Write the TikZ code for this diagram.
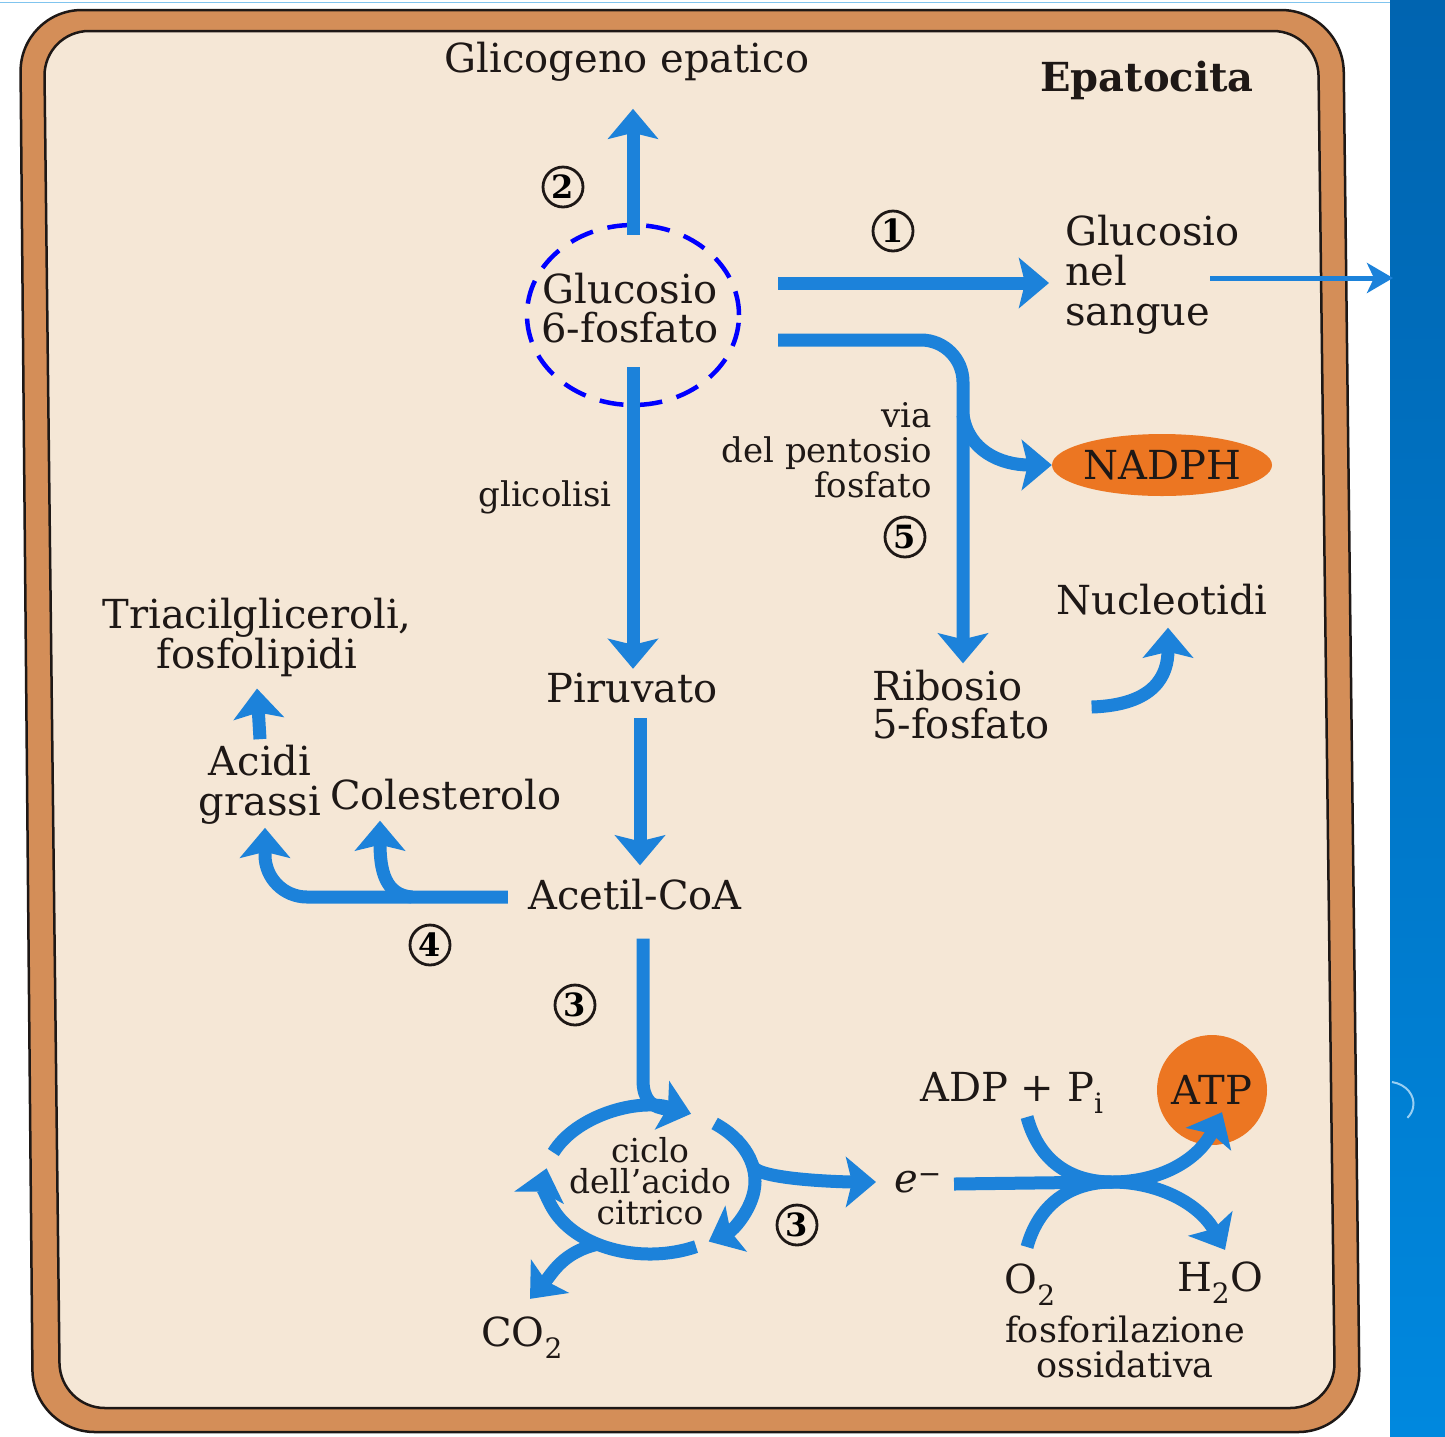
\documentclass[tikz,border=0pt]{standalone}
\usepackage{fontspec}
\setmainfont{DejaVu Serif}
\usetikzlibrary{arrows.meta, positioning, calc, shapes.geometric}
\definecolor{freccia}{RGB}{28,130,218}
\definecolor{cellula}{RGB}{245,231,214}
\definecolor{bordo}{RGB}{212,142,88}
\definecolor{arancio}{RGB}{236,118,34}
\definecolor{pannello}{RGB}{0,100,176}
\definecolor{pannellob}{RGB}{0,136,222}
\definecolor{inchiostro}{RGB}{30,24,22}

\begin{document}
\begin{tikzpicture}[x=1pt, y=-1pt,
    flusso/.style={freccia, line width=13pt, -{Stealth[length=30pt, width=50pt, inset=6pt]}},
    linea/.style={freccia, line width=13pt},
    sottile/.style={freccia, line width=5pt, -{Stealth[length=26pt, width=30pt, inset=7pt]}},
    testo/.style={inchiostro, font=\fontsize{40}{40}\selectfont, inner sep=0pt, align=center},
    piccolo/.style={inchiostro, font=\fontsize{34}{35}\selectfont, inner sep=0pt, align=center},
    numero/.style={circle, draw=inchiostro, line width=2.8pt, inner sep=0pt, minimum size=40pt, font=\fontsize{32}{32}\selectfont\bfseries}]
  \useasboundingbox (0,0) rectangle (1445,1436);
  % fondo e pannello
  \fill[white] (0,0) rectangle (1390,1436);
  \shade[top color=pannello, bottom color=pannellob] (1390,0) rectangle (1445,1436);
  \draw[pannellob!50, line width=1pt] (0,2) -- (1390,2);
  \draw[pannellob!40!white, line width=2pt] (1392,1082) arc[start angle=-80, end angle=40, x radius=26, y radius=22];
  % cellula
  \draw[inchiostro, line width=2.5pt, fill=bordo, rounded corners=62pt] (20,10) -- (1343,10) -- (1360,1432) -- (33,1432) -- cycle;
  \draw[inchiostro, line width=2.5pt, fill=cellula, rounded corners=45pt] (44,31) -- (1318,31) -- (1335,1408) -- (60,1408) -- cycle;

  % testi
  \node[testo] (glicogeno) at (627,62) {Glicogeno epatico};
  \node[testo, font=\fontsize{40}{40}\selectfont\bfseries] (epatocita) at (1147,80) {Epatocita};
  \node[testo, font=\fontsize{40}{39}\selectfont] (g6p) at (630,308) {Glucosio\\6-fosfato};
  \node[draw=blue, dash pattern=on 24pt off 15pt, line width=4.5pt, ellipse, minimum width=212pt, minimum height=180pt] (evid) at (633,315) {};
  \node[testo, align=left, anchor=west] (sangue) at (1065,275) {Glucosio\\nel\\sangue};
  \node[ellipse, fill=arancio, minimum width=220pt, minimum height=62pt, inner sep=0pt] (nadph) at (1162,465) {};
  \node[testo] at (nadph) {NADPH};
  \node[piccolo, align=right, anchor=east] (pentosio) at (932,450) {via\\del pentosio\\fosfato};
  \node[piccolo] (glicolisi) at (545,497) {glicolisi};
  \node[testo] (nucleotidi) at (1162,600) {Nucleotidi};
  \node[testo, font=\fontsize{40}{38}\selectfont, align=left, anchor=west] (ribosio) at (872,705) {Ribosio\\5-fosfato};
  \node[testo] (piruvato) at (632,688) {Piruvato};
  \node[testo] (triacil) at (257,637) {Triacilgliceroli,\\fosfolipidi};
  \node[testo] (acidi) at (260,785) {Acidi\\grassi};
  \node[testo] (colest) at (446,795) {Colesterolo};
  \node[testo] (acetil) at (635,895) {Acetil-CoA};
  \node[piccolo, font=\fontsize{33}{31}\selectfont] (ciclo) at (650,1181) {ciclo\\dell’acido\\citrico};
  \node[testo] (elettr) at (918,1182) {\textit{e}\textsuperscript{−}};
  \node[testo] (co2) at (522,1338) {CO\textsubscript{2}};
  \node[testo] (adp) at (1012,1093) {ADP + P\textsubscript{i}};
  \node[circle, fill=arancio, minimum size=110pt, inner sep=0pt] (atp) at (1212,1090) {};
  \node[testo] at (atp) {ATP};
  \node[testo] (o2) at (1030,1285) {O\textsubscript{2}};
  \node[testo] (h2o) at (1220,1283) {H\textsubscript{2}O};
  \node[testo, font=\fontsize{35}{35}\selectfont] (fosfox) at (1125,1347) {fosforilazione\\ossidativa};

  % numeri
  \node[numero] (n1) at (893,231) {1};
  \node[numero] (n2) at (563,187) {2};
  \node[numero] (n3a) at (575,1005) {3};
  \node[numero] (n3b) at (797,1225) {3};
  \node[numero] (n4) at (430,945) {4};
  \node[numero] (n5) at (905,537) {5};

  % punti liberi
  \coordinate (esce1) at (778,283);
  \coordinate (esce5) at (778,340);
  \coordinate (ramo5) at (963,415);
  \coordinate (sangueout) at (1210,278);
  \coordinate (fuori) at (1393,278);
  \coordinate (ramo4) at (412,897);
  \coordinate (giu) at (640,718);
  \coordinate (incrocio) at (1112,1182);
  \coordinate (daadp) at (1027,1117);
  \coordinate (daoo) at (1027,1247);
  \path (ciclo.center) ++(280:105 and 73) coordinate (cicloin);
  \path (ciclo.center) ++(-12:105 and 73) coordinate (cicloe);
  \path (ciclo.center) ++(120:105 and 73) coordinate (cicloco);

  % frecce principali
  \draw[flusso] ([yshift=-12pt]evid.north) -- ($(evid.north |- glicogeno.south)+(0,27)$);
  \draw[flusso] (esce1) -- ($(sangue.west |- esce1)+(-16,0)$);
  \draw[sottile] (sangueout) -- (fuori);
  \draw[flusso, rounded corners=42pt] (esce5) -- (963,340) -- ([yshift=7pt]ribosio.north -| ramo5);
  \draw[flusso] (ramo5) .. controls (968,450) and (1000,465) .. (nadph.west);
  \draw[flusso] ([xshift=42pt, yshift=-2pt]ribosio.east) .. controls (1155,705) and (1168,675) .. ([xshift=6pt, yshift=-12pt]nucleotidi.south);
  \draw[flusso] ([yshift=40pt]evid.south) -- ($(evid.south |- piruvato.north)+(0,-4)$);
  \draw[flusso] (giu) -- ($(giu |- acetil.north)+(0,-14)$);
  \draw[flusso] ([yshift=6pt]acidi.north) -- ([yshift=-12pt]triacil.south);
  \draw[flusso, rounded corners=42pt] ([xshift=-20pt, yshift=-2pt]acetil.west) -- (265,897) -- ([xshift=5pt, yshift=-3pt]acidi.south);
  \draw[flusso] (ramo4) .. controls (385,895) and (380,870) .. ([xshift=-66pt, yshift=-10pt]colest.south);

  % ciclo dell'acido citrico
  \draw[linea] ([xshift=8pt, yshift=-28pt]acetil.south) -- (643,1080) .. controls (643,1100) and (652,1108) .. (cicloin);
  \draw[flusso] (ciclo.center) ++(203:105 and 73) arc[start angle=203, end angle=293, x radius=105, y radius=73];
  \draw[flusso] (ciclo.center) ++(-52:105 and 73) arc[start angle=-52, end angle=56, x radius=105, y radius=73];
  \draw[flusso] (ciclo.center) ++(64:105 and 73) arc[start angle=64, end angle=190, x radius=105, y radius=73];
  \draw[flusso] (cicloe) .. controls +(4,14) and +(-30,0) .. ([xshift=-18pt]elettr.west);
  \draw[flusso] (cicloco) .. controls +(-35,8) and +(22,-25) .. ([xshift=8pt, yshift=18pt]co2.north);

  % fosforilazione ossidativa
  \draw[linea] ([xshift=12pt, yshift=-2pt]elettr.east) -- (incrocio);
  \draw[flusso] (daadp) .. controls (1040,1165) and (1075,1182) .. (incrocio) .. controls (1160,1182) and (1198,1160) .. ([xshift=10pt, yshift=33pt]atp.south);
  \draw[flusso] (daoo) .. controls (1040,1200) and (1075,1182) .. (incrocio) .. controls (1160,1182) and (1200,1205) .. ([xshift=5pt, yshift=12pt]h2o.north);
\end{tikzpicture}
\end{document}
